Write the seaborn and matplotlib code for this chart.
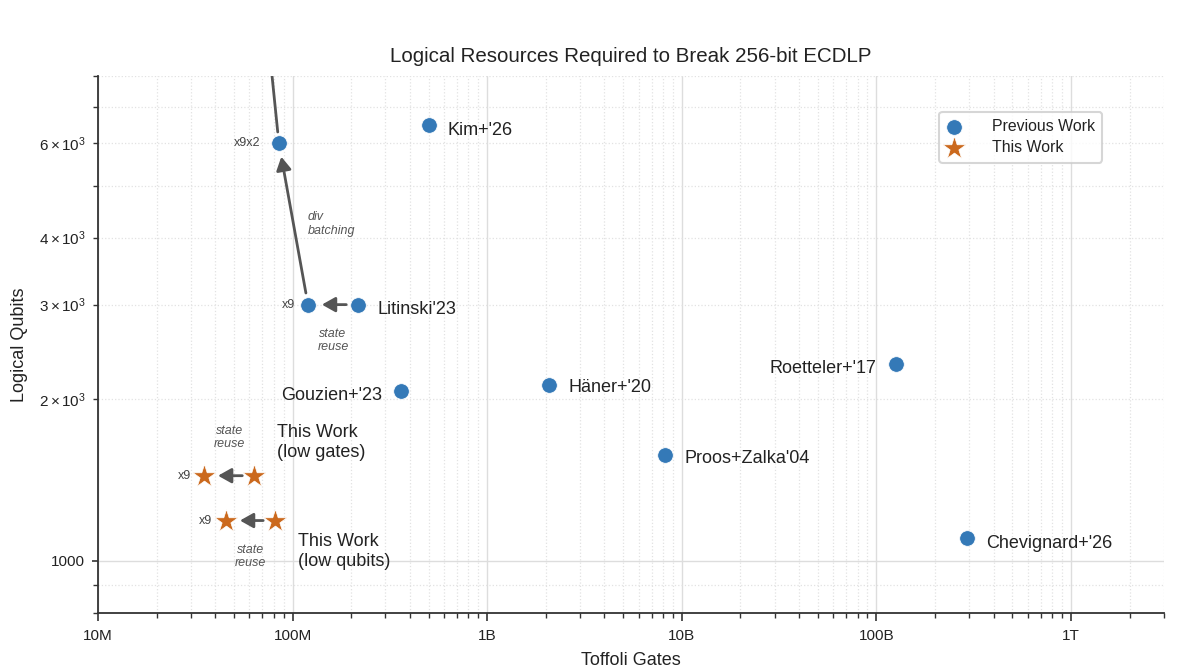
import numpy as np
import pandas as pd
import matplotlib
matplotlib.use("Agg")
import matplotlib.pyplot as plt
import seaborn as sns
from matplotlib import ticker

# ---------------- data ----------------
prev_labels = ["Kim+'26", "Litinski'23", "Gouzien+'23", "Häner+'20",
               "Proos+Zalka'04", "Roetteler+'17", "Chevignard+'26"]
prev_toffoli = [5.0e8, 2.17e8, 3.6e8, 2.08e9, 8.2e9, 1.26e11, 2.93e11]
prev_qubits = [6470, 3000, 2074, 2124, 1574, 2330, 1102]

derived_tags = ["x9", "x9x2"]
derived_toffoli = [1.2e8, 8.5e7]
derived_qubits = [3000, 6000]

this_tags = ["low gates", "low gates x9", "low qubits", "low qubits x9"]
this_toffoli = [6.34e7, 3.51e7, 8.12e7, 4.55e7]
this_qubits = [1440, 1440, 1188, 1188]

x_tick_values = [1e7, 1e8, 1e9, 1e10, 1e11, 1e12]
x_tick_labels = ["10M", "100M", "1B", "10B", "100B", "1T"]

# off-chart continuation beyond x9x2 (clipped by axes)
offchart_toffoli = 7.0e7
offchart_qubits = 12000

BLUE = "#3479b7"
ORANGE = "#cb691d"
GREY = "#555555"

# ---------------- style ----------------
sns.set_theme(style="ticks")
plt.rcParams["font.family"] = ["Liberation Sans", "DejaVu Sans"]
plt.rcParams["mathtext.fontset"] = "custom"
plt.rcParams["mathtext.rm"] = "Liberation Sans"
plt.rcParams["mathtext.it"] = "Liberation Sans:italic"
plt.rcParams["mathtext.bf"] = "Liberation Sans:bold"

PX = 0.72  # points per pixel at dpi 100

fig = plt.figure(figsize=(11.98, 6.67), dpi=100)
ax = fig.add_axes([98 / 1198, 1 - 612.7 / 667, (1163.8 - 98) / 1198, (612.7 - 76) / 667])

prev_df = pd.DataFrame({"toffoli": prev_toffoli, "qubits": prev_qubits, "label": prev_labels})
der_df = pd.DataFrame({"toffoli": derived_toffoli, "qubits": derived_qubits, "tag": derived_tags})
this_df = pd.DataFrame({"toffoli": this_toffoli, "qubits": this_qubits, "tag": this_tags})

sns.scatterplot(data=prev_df, x="toffoli", y="qubits", color=BLUE, s=125, marker="o",
                edgecolor="white", linewidth=0.5, label="Previous Work", ax=ax, zorder=4)
sns.scatterplot(data=der_df, x="toffoli", y="qubits", color=BLUE, s=125, marker="o",
                edgecolor="white", linewidth=0.5, ax=ax, zorder=4)
sns.scatterplot(data=this_df, x="toffoli", y="qubits", color=ORANGE, s=300, marker="*",
                edgecolor="white", linewidth=0.5, label="This Work", ax=ax, zorder=4)

ax.set_xscale("log")
ax.set_yscale("log")
ax.set_xlim(1e7, 3e12)
ax.set_ylim(800, 8000)

ax.xaxis.set_major_locator(ticker.FixedLocator(x_tick_values))
ax.xaxis.set_major_formatter(ticker.FixedFormatter(x_tick_labels))
ax.xaxis.set_minor_locator(ticker.LogLocator(base=10, subs=np.arange(2, 10)))
ax.xaxis.set_minor_formatter(ticker.NullFormatter())
ax.yaxis.set_major_formatter(ticker.FuncFormatter(lambda v, p: f"{v:g}"))
ax.yaxis.set_minor_formatter(ticker.LogFormatterSciNotation(labelOnlyBase=False,
                                                            minor_thresholds=(2, 0.4)))

ax.tick_params(which="both", labelsize=11, colors="#333333", labelcolor="#222222")
ax.tick_params(axis="x", which="major", length=6, width=1.2, pad=6)
ax.tick_params(axis="x", which="minor", length=3.5, width=1.0)
ax.tick_params(axis="y", which="major", length=4.5, width=1.2, pad=5)
ax.tick_params(axis="y", which="minor", length=3.5, width=1.0, pad=5)
ax.set_axisbelow(True)
ax.grid(which="major", color="#dddddd", lw=1.0, ls="-")
ax.grid(which="minor", color="#e2e2e2", lw=0.9, ls=":")
sns.despine(ax=ax)
for s in ["left", "bottom"]:
    ax.spines[s].set_color("#333333")
    ax.spines[s].set_linewidth(1.3)

ax.set_xlabel("Toffoli Gates", fontsize=13, color="#222222", labelpad=6)
ax.set_ylabel("Logical Qubits", fontsize=13, color="#222222", labelpad=8)
ax.set_title("Logical Resources Required to Break 256-bit ECDLP", fontsize=14.8,
             color="#222222", pad=10)

# ---------------- labels for previous work ----------------
label_style = [(19, -5, "left"), (19, -5, "left"), (-19, -5, "right"), (19, -2, "left"),
               (19, -4, "left"), (-20, -5, "right"), (19, -5, "left")]
for lab, xv, yv, (dx, dy, ha) in zip(prev_labels, prev_toffoli, prev_qubits, label_style):
    ax.annotate(lab, (xv, yv), xytext=(dx * PX, dy * PX), textcoords="offset points",
                ha=ha, va="center", fontsize=13, color="#222222", zorder=5)

# small multiplier tags
small = dict(textcoords="offset points", ha="right", va="center", fontsize=9, color="#444444")
ax.annotate(derived_tags[0], (derived_toffoli[0], derived_qubits[0]), xytext=(-13 * PX, 0), **small)
ax.annotate(derived_tags[1], (derived_toffoli[1], derived_qubits[1]), xytext=(-18 * PX, 0), **small)
ax.annotate("x9", (this_toffoli[1], this_qubits[1]), xytext=(-13 * PX, 0), **small)
ax.annotate("x9", (this_toffoli[3], this_qubits[3]), xytext=(-14 * PX, 0), **small)

# This Work labels
ax.annotate("This Work\n(low gates)", (this_toffoli[0], this_qubits[0]),
            xytext=(23 * PX, 33 * PX), textcoords="offset points", ha="left", va="center",
            fontsize=13, color="#222222", linespacing=1.2)
ax.annotate("This Work\n(low qubits)", (this_toffoli[2], this_qubits[2]),
            xytext=(23 * PX, -31 * PX), textcoords="offset points", ha="left", va="center",
            fontsize=13, color="#222222", linespacing=1.2)

# ---------------- arrows ----------------
arrow_kw = dict(arrowstyle="-|>,head_length=0.5,head_width=0.28", color=GREY, lw=2,
                shrinkA=8.5, shrinkB=10, mutation_scale=16)
arrow_pairs = [
    ((prev_toffoli[1], prev_qubits[1]), (derived_toffoli[0], derived_qubits[0])),
    ((derived_toffoli[0], derived_qubits[0]), (derived_toffoli[1], derived_qubits[1])),
    ((this_toffoli[0], this_qubits[0]), (this_toffoli[1], this_qubits[1])),
    ((this_toffoli[2], this_qubits[2]), (this_toffoli[3], this_qubits[3])),
]
for src, dst in arrow_pairs:
    ax.annotate("", xy=dst, xytext=src, arrowprops=arrow_kw, zorder=3)

cont = ax.annotate("", xy=(offchart_toffoli, offchart_qubits),
                   xytext=(derived_toffoli[1], derived_qubits[1]),
                   arrowprops=dict(arrowstyle="-", color=GREY, lw=2, shrinkA=8, shrinkB=0),
                   annotation_clip=False, zorder=3)
cont.arrow_patch.set_clip_box(ax.bbox)
cont.arrow_patch.set_clip_on(True)

# arrow captions (at log-midpoints of the arrows)
def logmid(a, b):
    return float(np.sqrt(a * b))

cap = dict(textcoords="offset points", fontsize=9, color=GREY, style="italic",
           va="center", linespacing=1.15)
ax.annotate("state\nreuse", (logmid(prev_toffoli[1], derived_toffoli[0]), prev_qubits[1]),
            xytext=(0, -36 * PX), ha="center", **cap)
ax.annotate("div\nbatching", (logmid(derived_toffoli[0], derived_toffoli[1]),
                               logmid(derived_qubits[0], derived_qubits[1])),
            xytext=(14.5 * PX, 0), ha="left", **cap)
ax.annotate("state\nreuse", (logmid(this_toffoli[0], this_toffoli[1]), this_qubits[0]),
            xytext=(0, 38 * PX), ha="center", **cap)
ax.annotate("state\nreuse", (logmid(this_toffoli[2], this_toffoli[3]), this_qubits[2]),
            xytext=(0, -36 * PX), ha="center", **cap)

# ---------------- legend ----------------
leg = ax.legend(loc="upper right", bbox_to_anchor=(0.942, 0.933), borderaxespad=0,
                fontsize=11.4, frameon=True, handlelength=0.9, handletextpad=1.95,
                borderpad=0.45, labelspacing=0.4, fancybox=True)
leg.get_frame().set_edgecolor("#cccccc")
leg.get_frame().set_linewidth(1.5)
for t in leg.get_texts():
    t.set_color("#222222")

fig.savefig("out.png", dpi=100)
